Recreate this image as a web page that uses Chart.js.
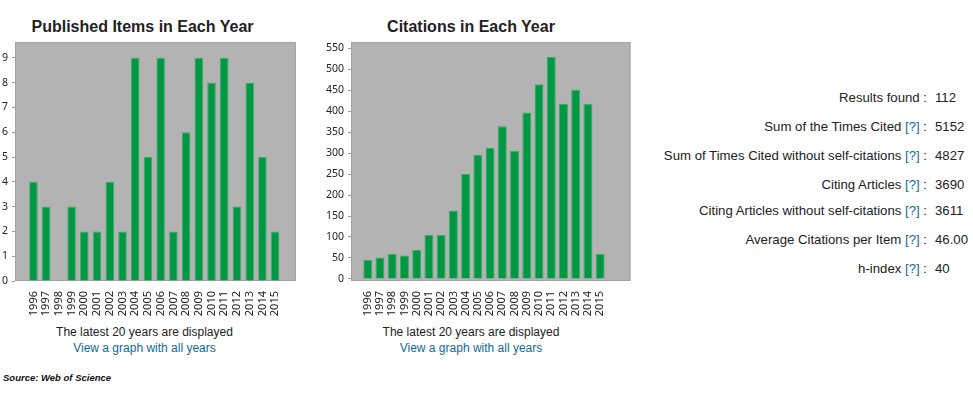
<!DOCTYPE html>
<html>
<head>
<meta charset="utf-8">
<script src="https://cdn.jsdelivr.net/npm/chart.js@4.4.1/dist/chart.umd.min.js"></script>
<style>
  html, body { margin: 0; padding: 0; background: #ffffff; }
  body { width: 973px; height: 397px; position: relative; overflow: hidden; font-family: "Liberation Sans", Arial, sans-serif; color: #222; }
  .abs { position: absolute; white-space: nowrap; }
  .title { font-weight: bold; font-size: 16px; color: #222; }
  .cap { font-size: 12px; color: #222; }
  .link { font-size: 12px; color: #0f6b9c; }
  .q { color: #0f6b9c; }
  .lbl { font-size: 13.2px; text-align: right; color: #222; }
  .val { font-size: 13.2px; color: #222; }
  canvas { position: absolute; }
</style>
</head>
<body>
<div class="abs title" id="t1" style="left:0; width:285px; text-align:center; top:18px;">Published Items in Each Year</div>
<div class="abs title" id="t2" style="left:330px; width:282px; text-align:center; top:18px;">Citations in Each Year</div>

<canvas id="c1" width="305" height="325" style="left:0; top:0;"></canvas>
<canvas id="c2" width="320" height="325" style="left:320px; top:0;"></canvas>

<div class="abs cap" style="left:0; width:289px; text-align:center; top:325px;">The latest 20 years are displayed</div>
<div class="abs link" style="left:0; width:289px; text-align:center; top:341px;">View a graph with all years</div>
<div class="abs cap" style="left:330px; width:282px; text-align:center; top:325px;">The latest 20 years are displayed</div>
<div class="abs link" style="left:330px; width:282px; text-align:center; top:341px;">View a graph with all years</div>

<div id="stats"></div>

<div class="abs" style="left:3px; top:372px; font-size:9.5px; font-weight:bold; font-style:italic; color:#111;">Source: Web of Science</div>

<script>
// ---- data ----
const years = [1996,1997,1998,1999,2000,2001,2002,2003,2004,2005,2006,2007,2008,2009,2010,2011,2012,2013,2014,2015];
const publishedItems = [4,3,0,3,2,2,4,2,9,5,9,2,6,9,8,9,3,8,5,2];
const citations = [45,51,60,56,69,105,105,163,250,296,313,364,305,397,464,530,418,451,418,60];
const statLabels = ["Results found", "Sum of the Times Cited", "Sum of Times Cited without self-citations", "Citing Articles", "Citing Articles without self-citations", "Average Citations per Item", "h-index"];
const statHasHelp = [false, true, true, true, true, true, true];
const statValues = ["112", "5152", "4827", "3690", "3611", "46.00", "40"];

// ---- stats panel ----
const statTops = [90, 119, 148, 177, 203, 232, 261];
const stats = document.getElementById('stats');
statLabels.forEach((l, i) => {
  const d = document.createElement('div');
  d.className = 'abs lbl';
  d.style.right = (973 - 927) + 'px';
  d.style.top = statTops[i] + 'px';
  d.innerHTML = l + (statHasHelp[i] ? ' <span class="q">[?]</span>' : '') + ' :';
  stats.appendChild(d);
  const v = document.createElement('div');
  v.className = 'abs val';
  v.style.left = '935px';
  v.style.top = statTops[i] + 'px';
  v.textContent = statValues[i];
  stats.appendChild(v);
});

// ---- charts ----
const boxPlugin = {
  id: 'box',
  beforeDatasetsDraw(chart) {
    const a = chart.chartArea, ctx = chart.ctx;
    ctx.save();
    ctx.fillStyle = '#b3b3b3';
    ctx.fillRect(a.left, a.top, a.right - a.left, a.bottom - a.top);
    ctx.strokeStyle = '#a3a3a3';
    ctx.lineWidth = 1;
    ctx.strokeRect(a.left + 0.5, a.top + 0.5, a.right - a.left - 1, a.bottom - a.top - 1);
    ctx.restore();
  }
};

function makeChart(id, values, cfg) {
  return new Chart(document.getElementById(id), {
    type: 'bar',
    data: {
      datasets: [{
        data: years.map((y, i) => ({ x: y, y: values[i] })),
        backgroundColor: '#009842',
        borderColor: '#3aad68',
        borderWidth: 1,
        borderSkipped: 'bottom',
        categoryPercentage: 1,
        barPercentage: cfg.barPct
      }]
    },
    options: {
      responsive: false,
      animation: false,
      devicePixelRatio: 1,
      layout: { padding: { top: 42, right: cfg.padRight, left: 0, bottom: 0 } },
      plugins: { legend: { display: false }, tooltip: { enabled: false }, title: { display: false } },
      scales: {
        x: {
          type: 'linear',
          offset: false,
          min: cfg.xmin, max: cfg.xmax,
          afterFit(s) { s.height = 44; },
          grid: { display: false, offset: false },
          border: { display: false },
          ticks: {
            stepSize: 1,
            includeBounds: false,
            autoSkip: false,
            minRotation: 90, maxRotation: 90,
            padding: 2,
            color: '#222',
            font: { family: 'Noto Sans', size: 11 },
            callback: v => (v >= years[0] && v <= years[years.length - 1]) ? String(v) : ''
          }
        },
        y: {
          min: cfg.ymin, max: cfg.ymax,
          afterFit(s) { s.width = cfg.yw; },
          grid: { drawOnChartArea: false, drawTicks: true, tickLength: 3, color: '#999' },
          border: { display: false },
          ticks: {
            stepSize: cfg.step,
            includeBounds: false,
            padding: 4,
            color: '#222',
            font: { family: 'Noto Sans', size: 10.5 }
          }
        }
      }
    },
    plugins: [boxPlugin]
  });
}

makeChart('c1', publishedItems, { xmin: 1994.55, xmax: 2016.64, ymin: 0, ymax: 9.64, step: 1, yw: 15, padRight: 9, barPct: 0.67 });
makeChart('c2', citations, { xmin: 1994.63, xmax: 2017.48, ymin: -5, ymax: 565, step: 50, yw: 31, padRight: 8, barPct: 0.73 });
</script>
</body>
</html>
